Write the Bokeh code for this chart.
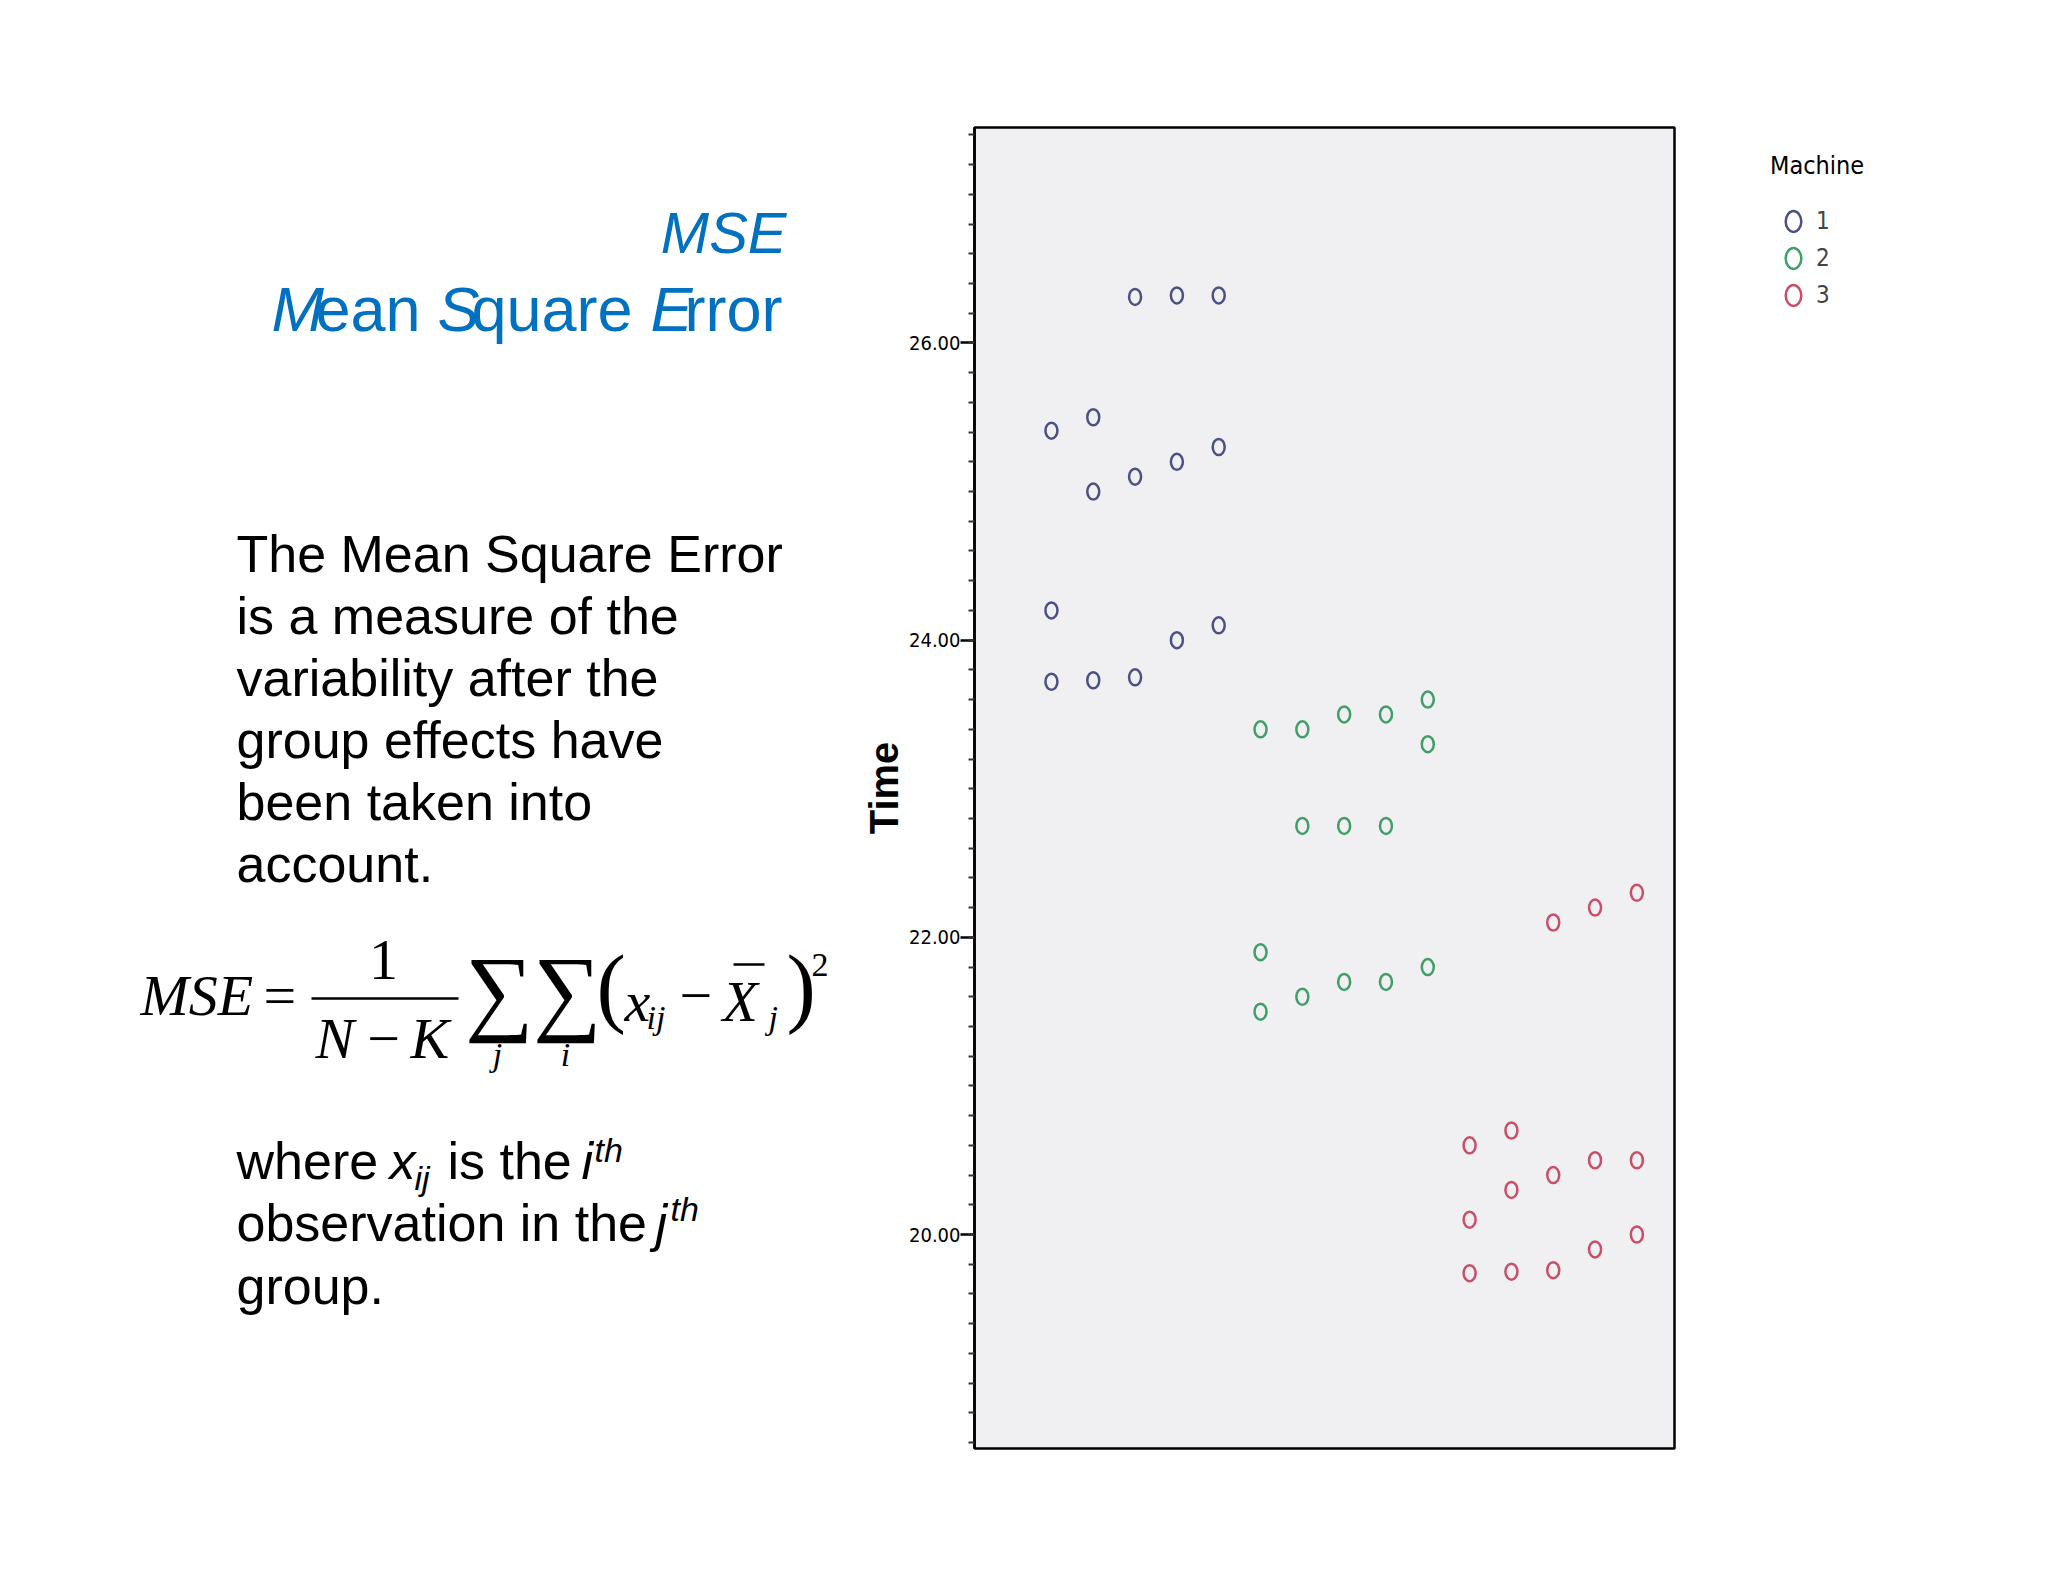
from bokeh.plotting import figure
from bokeh.layouts import row
from bokeh.models import (Range1d, SingleIntervalTicker, NumeralTickFormatter, Legend,
                          LegendItem, ColumnDataSource)
from bokeh.core.properties import value
from bokeh.embed import file_html
from bokeh.resources import INLINE

# ---------------- data ----------------
machines = ["1", "2", "3"]
colors = ["#4b5283", "#3f9f66", "#c94f68"]

m1_col = [1, 1, 1, 2, 2, 2, 3, 3, 3, 4, 4, 4, 5, 5, 5]
m1_time = [25.41, 24.20, 23.72, 25.50, 25.00, 23.73, 26.31, 25.10, 23.75,
           26.32, 25.20, 24.00, 26.32, 25.30, 24.10]

m2_col = [6, 6, 6, 7, 7, 7, 8, 8, 8, 9, 9, 9, 10, 10, 10]
m2_time = [23.40, 21.90, 21.50, 23.40, 22.75, 21.60, 23.50, 22.75, 21.70,
           23.50, 22.75, 21.70, 23.60, 23.30, 21.80]

m3_col = [11, 11, 11, 12, 12, 12, 13, 13, 13, 14, 14, 14, 15, 15, 15]
m3_time = [20.60, 20.10, 19.74, 20.70, 20.30, 19.75, 22.10, 20.40, 19.76,
           22.20, 20.50, 19.90, 22.30, 20.50, 20.00]

y_title = "Time"
legend_title = "Machine"

title_top = "MSE"
body_lines = ["The Mean Square Error", "is a measure of the", "variability after the",
              "group effects have", "been taken into", "account."]

SANS = "Liberation Sans"
SERIF = "Liberation Serif"
NARROW = "'Liberation Sans Narrow', 'DejaVu Sans Condensed', sans-serif"
BLUE = "#0070c0"

H = 1580
FRAME_TOP, FRAME_BOTTOM = 127, 1448
LEFT_W = 840
FRAME_LEFT, FRAME_RIGHT = 974, 1674
MID_W = FRAME_RIGHT + 2 - LEFT_W          # scatter figure
LEG_X0 = LEFT_W + MID_W                   # page x where the legend figure starts
LEG_W = 2040 - LEG_X0

common = dict(height=H, output_backend="svg", toolbar_location=None,
              min_border_top=FRAME_TOP, min_border_bottom=H - FRAME_BOTTOM)

# ---------------- left text panel ----------------
# its frame is aligned with the scatter frame; data coordinates = page pixels
left = figure(width=LEFT_W, x_range=Range1d(0, LEFT_W),
              y_range=Range1d(FRAME_BOTTOM, FRAME_TOP),
              x_axis_location=None, y_axis_location=None,
              min_border_left=0, min_border_right=0, outline_line_color=None, **common)
left.grid.visible = False
left.background_fill_color = "white"
left.border_fill_color = "white"


def txt(s, x, y, size, font=SANS, style="normal", color="black", align="left"):
    left.text(x=[x], y=[y], text=[s], text_font=value(font), text_font_size=f"{size}px",
              text_font_style=style, text_color=color, text_align=align, text_baseline="middle")


# title
txt(title_top, 786, 232, 58, style="italic", color=BLUE, align="right")
txt("M", 271, 308, 63, style="italic", color=BLUE)
txt("ean", 315, 308, 63, color=BLUE)
txt("S", 437, 308, 63, style="italic", color=BLUE)
txt("quare", 471, 308, 63, color=BLUE)
txt("E", 650, 308, 63, style="italic", color=BLUE)
txt("rror", 684, 308, 63, color=BLUE)

# body
for k, line in enumerate(body_lines):
    txt(line, 236, 553 + 62 * k, 52)

# formula
txt("MSE", 140, 995, 58, font=SERIF, style="italic")
txt("=", 263, 995, 58, font=SERIF)
txt("1", 383, 959, 58, font=SERIF, align="center")
left.segment(x0=[311], y0=[998], x1=[458], y1=[998], line_color="black", line_width=2.5)
txt("N", 315, 1038, 58, font=SERIF, style="italic")
txt("\u2212", 383, 1038, 58, font=SERIF, align="center")
txt("K", 410, 1038, 58, font=SERIF, style="italic")
txt("\u2211", 499, 990, 96, font=SERIF, align="center")
txt("\u2211", 567, 990, 96, font=SERIF, align="center")
txt("j", 497, 1054, 34, font=SERIF, style="italic", align="center")
txt("i", 565, 1054, 34, font=SERIF, style="italic", align="center")
txt("(", 596, 986, 88, font=SERIF)
txt("x", 624, 1001, 58, font=SERIF, style="italic")
txt("ij", 646, 1017, 34, font=SERIF, style="italic")
txt("\u2212", 679, 995, 58, font=SERIF)
txt("X", 722, 1001, 58, font=SERIF, style="italic")
left.segment(x0=[733], y0=[964], x1=[764], y1=[964], line_color="black", line_width=2.5)
txt("j", 768, 1017, 34, font=SERIF, style="italic")
txt(")", 786, 986, 88, font=SERIF)
txt("2", 811, 964, 34, font=SERIF)

# where ...
txt("where", 236, 1160, 52)
txt("x", 389, 1160, 52, style="italic")
txt("ij", 414, 1177, 34, style="italic")
txt("is the", 447, 1160, 52)
txt("i", 581, 1160, 52, style="italic")
txt("th", 594, 1149, 34, style="italic")
txt("observation in the", 236, 1222, 52)
txt("j", 655, 1222, 52, style="italic")
txt("th", 670, 1208, 34, style="italic")
txt("group.", 236, 1285, 52)

# ---------------- scatter plot ----------------
x_rng = Range1d(-0.84, 15.9)
y_rng = Range1d(18.56, 27.45)
p = figure(width=MID_W, x_range=x_rng, y_range=y_rng, x_axis_location=None,
           min_border_left=FRAME_LEFT - LEFT_W, min_border_right=2, **common)
p.grid.visible = False
p.background_fill_color = "#f0eff2"
p.border_fill_color = "white"
p.outline_line_color = "black"
p.outline_line_width = 2.5

ax = p.yaxis[0]
ax.ticker = SingleIntervalTicker(interval=2, num_minor_ticks=10)
ax.formatter = NumeralTickFormatter(format="0.00")
ax.axis_label = y_title
ax.axis_label_text_font = SANS
ax.axis_label_text_font_style = "bold"
ax.axis_label_text_font_size = "40px"
ax.axis_label_text_color = "black"
ax.axis_label_standoff = 0
ax.major_label_text_font = NARROW
ax.major_label_text_font_size = "20px"
ax.major_label_text_color = "black"
ax.major_label_standoff = 0
ax.axis_line_color = "black"
ax.axis_line_width = 2.5
ax.major_tick_out = 14
ax.major_tick_in = 0
ax.major_tick_line_width = 2.5
ax.major_tick_line_color = "black"
ax.minor_tick_out = 6
ax.minor_tick_in = 0
ax.minor_tick_line_width = 2
ax.minor_tick_line_color = "#333333"

sources = [ColumnDataSource(dict(x=c, y=t))
           for c, t in zip([m1_col, m2_col, m3_col], [m1_time, m2_time, m3_time])]
glyph_kw = dict(width=12, height=16, width_units="screen", height_units="screen",
                fill_alpha=0, line_width=2.5)
for src, c in zip(sources, colors):
    p.ellipse(x="x", y="y", source=src, line_color=c, **glyph_kw)

# ---------------- legend panel (beside the plot) ----------------
leg_fig = figure(width=LEG_W, x_range=Range1d(1000, 1000 + LEG_W), y_range=Range1d(18.56, 27.45),
                 x_axis_location=None, y_axis_location=None,
                 min_border_left=0, min_border_right=0, outline_line_color=None, **common)
leg_fig.grid.visible = False
leg_fig.background_fill_color = "white"
leg_fig.border_fill_color = "white"
# same series, out of this panel's view: they only provide the legend swatches
leg_renderers = [leg_fig.ellipse(x="x", y="y", source=src, line_color=c, **glyph_kw)
                 for src, c in zip(sources, colors)]

legend = Legend(items=[LegendItem(label=m, renderers=[r]) for m, r in zip(machines, leg_renderers)],
                title=legend_title, title_text_font=NARROW, title_text_font_size="25px",
                title_text_font_style="normal", title_text_color="black", title_standoff=27,
                location=(1770 - LEG_X0, FRAME_BOTTOM - 309), padding=0, margin=0, spacing=9,
                glyph_width=46, glyph_height=26, label_standoff=0,
                label_text_font=NARROW, label_text_font_size="24px",
                border_line_color=None, background_fill_alpha=0)
leg_fig.add_layout(legend)

layout = row(left, p, leg_fig)
open("out.html", "w").write(file_html(layout, INLINE))
